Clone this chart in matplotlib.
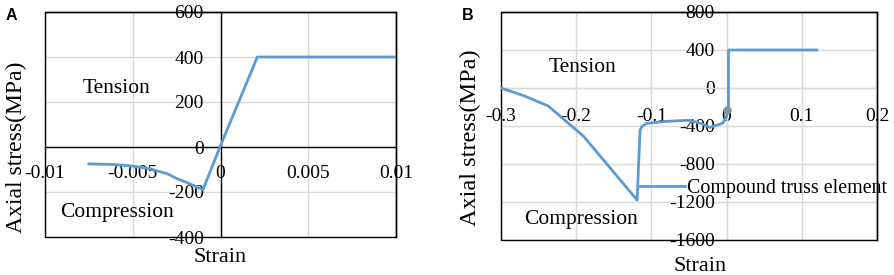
import matplotlib
matplotlib.use("Agg")
import matplotlib.pyplot as plt
from matplotlib.patches import Rectangle
from matplotlib.lines import Line2D

# ---------------- data ----------------
# Panel A
strain_a = [-0.0075, -0.006, -0.005, -0.004, -0.003, -0.0025, -0.002, -0.001, 0.0, 0.0021, 0.01]
stress_a = [-75, -78, -85, -97, -120, -140, -155, -190, 6, 400, 400]
xticks_a = [-0.01, -0.005, 0, 0.005, 0.01]
xlabels_a = ["-0.01", "-0.005", "0", "0.005", "0.01"]
yticks_a = [-400, -200, 0, 200, 400, 600]
ylabels_a = ["-400", "-200", "0", "200", "400", "600"]

# Panel B
strain_b = [-0.3, -0.27, -0.237, -0.19, -0.119, -0.117, -0.115, -0.112, -0.106, -0.085,
            -0.066, -0.05, -0.035, -0.022, -0.005, 0.0, 0.001, 0.0025, 0.0025, 0.12]
stress_b = [0, -80, -190, -510, -1180, -800, -440, -400, -372, -355,
            -345, -340, -370, -415, -370, -300, -235, -235, 400, 400]
marker_b = (0.001, -235)
xticks_b = [-0.3, -0.2, -0.1, 0, 0.1, 0.2]
xlabels_b = ["-0.3", "-0.2", "-0.1", "0", "0.1", "0.2"]
yticks_b = [-1600, -1200, -800, -400, 0, 400, 800]
ylabels_b = ["-1600", "-1200", "-800", "-400", "0", "400", "800"]
legend_label = "Compound truss element"

# ---------------- style ----------------
SERIF = ["Liberation Serif", "DejaVu Serif"]
plt.rcParams["font.family"] = SERIF
LINE = "#5B9BD5"
GRID = "#d9d9d9"
TICK_FS = 14
TXT_FS = 15.5

W, H = 894, 275
fig = plt.figure(figsize=(W / 100, H / 100), dpi=100)


def px_axes(l, r, t, b):
    return fig.add_axes([l / W, 1 - b / H, (r - l) / W, (b - t) / H])


def setup(ax, xlim, ylim, xt, xl, yt, yl, spine_color, xpad, ypad):
    ax.set_xlim(*xlim)
    ax.set_ylim(*ylim)
    ax.set_xticks(xt)
    ax.set_xticklabels(xl)
    ax.set_yticks(yt)
    ax.set_yticklabels(yl)
    ax.grid(True, color=GRID, lw=1)
    ax.set_axisbelow(True)
    for s in ("left", "bottom"):
        ax.spines[s].set_position(("data", 0))
        ax.spines[s].set_color(spine_color)
        ax.spines[s].set_linewidth(1)
    for s in ("top", "right"):
        ax.spines[s].set_color("black")
        ax.spines[s].set_linewidth(1)
    ax.add_patch(Rectangle((0, 0), 1, 1, transform=ax.transAxes, fill=False,
                           edgecolor="black", lw=1, clip_on=False, zorder=2.6))
    ax.tick_params(axis="x", length=0, pad=xpad, labelsize=TICK_FS)
    ax.tick_params(axis="y", length=0, pad=ypad, labelsize=TICK_FS)


# Panel A
axA = px_axes(45, 396, 12, 237)
setup(axA, (-0.01, 0.01), (-400, 600), xticks_a, xlabels_a, yticks_a, ylabels_a,
      "black", 13, 12)
axA.plot(strain_a, stress_a, color=LINE, lw=2, zorder=3)
axA.text(-0.0059, 262, "Tension", fontsize=TXT_FS, ha="center", va="center")
axA.text(-0.0059, -289, "Compression", fontsize=TXT_FS, ha="center", va="center")
axA.text(0.5, -0.089, "Strain", transform=axA.transAxes, fontsize=16, ha="center", va="center")
fig.text(16 / W, 1 - 147 / H, "Axial stress(MPa)", rotation=90, fontsize=17,
         ha="center", va="center")
fig.text(6 / W, 1 - 15 / H, "A", fontsize=11.5, fontweight="bold",
         family=["Liberation Sans", "DejaVu Sans"], ha="left", va="center")

# Panel B
axB = px_axes(501, 877, 12, 240)
setup(axB, (-0.3, 0.2), (-1600, 800), xticks_b, xlabels_b, yticks_b, ylabels_b,
      GRID, 14.5, 8.5)
lineB, = axB.plot(strain_b, stress_b, color=LINE, lw=2, zorder=3)
axB.plot([marker_b[0]], [marker_b[1]], "o", ms=5, color="#7f93ad", zorder=4)
axB.text(-0.1915, 221, "Tension", fontsize=TXT_FS, ha="center", va="center")
axB.text(-0.194, -1389, "Compression", fontsize=TXT_FS, ha="center", va="center")
axB.text(0.53, -0.118, "Strain", transform=axB.transAxes, fontsize=16, ha="center", va="center")
axB.legend(handles=[Line2D([], [], color=LINE, lw=2)], labels=[legend_label],
           loc="center left", bbox_to_anchor=(0.37, 0.2268), frameon=False,
           fontsize=14.4, handlelength=2.25, handletextpad=0.1,
           borderpad=0, borderaxespad=0)
fig.text(470 / W, 1 - 138 / H, "Axial stress(MPa)", rotation=90, fontsize=17.5,
         ha="center", va="center")
fig.text(462 / W, 1 - 15 / H, "B", fontsize=11.5, fontweight="bold",
         family=["Liberation Sans", "DejaVu Sans"], ha="left", va="center")

fig.savefig("out.png", dpi=100)
